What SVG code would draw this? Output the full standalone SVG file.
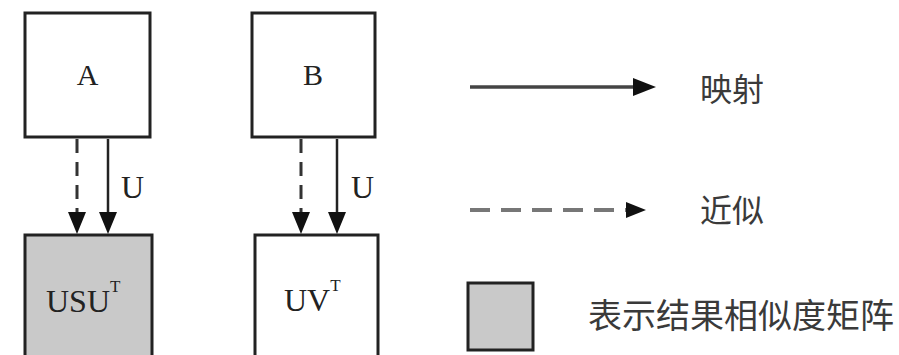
<svg xmlns="http://www.w3.org/2000/svg" width="899" height="355" viewBox="0 0 899 355">
<defs>
<style>
.box{fill:#ffffff;stroke:#222;stroke-width:3}
.gray{fill:#c9c9c9;stroke:#222;stroke-width:3}
.lbl{font-family:"Liberation Serif","Times New Roman",serif;fill:#222}
.cjk{font-family:"Noto Sans CJK SC","Liberation Sans",sans-serif;fill:#3a3a3a}
.solid{stroke:#222;stroke-width:2.5;fill:none}
.dash{stroke:#333;stroke-width:3;fill:none;stroke-dasharray:14 9}
.lsolid{stroke:#444;stroke-width:3.5;fill:none}
.ldash{stroke:#777;stroke-width:4;fill:none;stroke-dasharray:20 11}
.head{fill:#111}
</style>
</defs>
<rect width="899" height="355" fill="#ffffff"/>
<g id="node-A">
<rect class="box" x="25" y="13" width="125" height="124"/>
<text class="lbl" x="87.5" y="85" font-size="30" text-anchor="middle">A</text>
</g>
<g id="node-B">
<rect class="box" x="252" y="13" width="123" height="124"/>
<text class="lbl" x="313" y="85" font-size="30" text-anchor="middle">B</text>
</g>
<g id="node-USUT">
<rect class="gray" x="25" y="235" width="127" height="140"/>
<text class="lbl" x="46" y="312" font-size="32">USU<tspan font-size="17" dy="-20">T</tspan></text>
</g>
<g id="node-UVT">
<rect class="box" x="255" y="235" width="123" height="140"/>
<text class="lbl" x="284" y="311" font-size="32">UV<tspan font-size="17" dy="-20">T</tspan></text>
</g>
<g id="connectors">
<line class="dash" x1="77" y1="139" x2="77" y2="215"/>
<polygon class="head" points="68,212 86,212 77,234"/>
<line class="solid" x1="108" y1="139" x2="108" y2="215"/>
<polygon class="head" points="99,212 117,212 108,234"/>
<text class="lbl" x="121" y="198" font-size="32">U</text>
<line class="dash" x1="301" y1="139" x2="301" y2="215"/>
<polygon class="head" points="292,212 310,212 301,234"/>
<line class="solid" x1="337" y1="139" x2="337" y2="215"/>
<polygon class="head" points="328,212 346,212 337,234"/>
<text class="lbl" x="351" y="198" font-size="32">U</text>
</g>
<g id="legend">
<line class="lsolid" x1="470" y1="87" x2="636" y2="87"/>
<polygon class="head" points="633,78 656,87 633,96"/>
<text class="cjk" x="700" y="101" font-size="32">映射</text>
<line class="ldash" x1="470" y1="210" x2="626" y2="210"/>
<polygon class="head" points="626,202 646,210 626,218"/>
<text class="cjk" x="700" y="222" font-size="32">近似</text>
<rect class="gray" x="468" y="283" width="65" height="67"/>
<text class="cjk" x="588" y="328" font-size="34">表示结果相似度矩阵</text>
</g>
</svg>
